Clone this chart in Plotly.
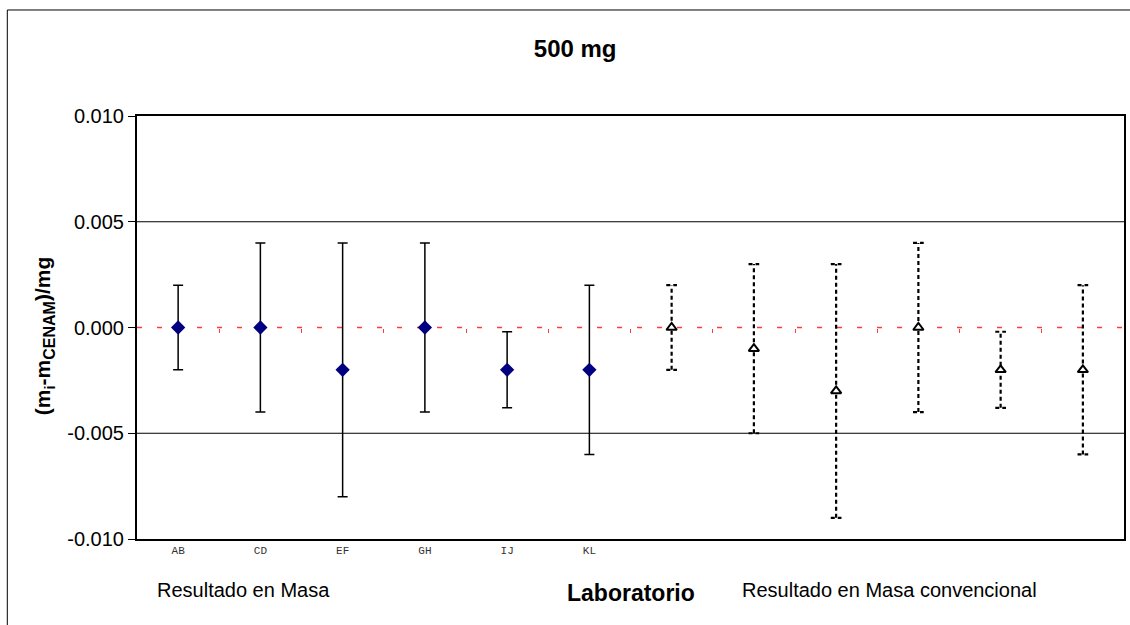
import plotly.graph_objects as go

# Datos (mg)
labs = ["AB", "CD", "EF", "GH", "IJ", "KL"]
masa = [0.000, 0.000, -0.002, 0.000, -0.002, -0.002]
u_masa = [0.002, 0.004, 0.006, 0.004, 0.0018, 0.004]
masa_conv = [0.000, -0.001, -0.003, 0.000, -0.002, -0.002]
u_masa_conv = [0.002, 0.004, 0.006, 0.004, 0.0018, 0.004]

y_ticks = [-0.010, -0.005, 0.000, 0.005, 0.010]
y_ticktext = ["-0.010", "-0.005", "0.000", "0.005", "0.010"]

n = len(labs)
x1 = list(range(n))
x2 = list(range(n, 2 * n))

fig = go.Figure()

# Resultado en masa: rombos con barras continuas
fig.add_trace(go.Scatter(
    x=x1, y=masa, mode="markers",
    marker=dict(symbol="diamond", size=11, color="#000080"),
    error_y=dict(type="data", array=u_masa, visible=True,
                 color="black", thickness=1.5, width=5),
    showlegend=False, hoverinfo="skip"))

# Resultado en masa convencional: barras punteadas hechas a mano
cap = 0.065
bx, by = [], []
for xi, yi, ui in zip(x2, masa_conv, u_masa_conv):
    bx += [xi, xi, None, xi - cap, xi + cap, None, xi - cap, xi + cap, None]
    by += [yi - ui, yi + ui, None, yi + ui, yi + ui, None, yi - ui, yi - ui, None]
fig.add_trace(go.Scatter(
    x=bx, y=by, mode="lines",
    line=dict(color="black", width=2.2, dash="4px,3px"),
    showlegend=False, hoverinfo="skip"))

fig.add_trace(go.Scatter(
    x=x2, y=masa_conv, mode="markers",
    marker=dict(symbol="triangle-up", size=9, color="white",
                line=dict(color="black", width=2)),
    showlegend=False, hoverinfo="skip"))

# lineas de rejilla (sin la de cero)
for yv in y_ticks[1:-1]:
    if yv != 0:
        fig.add_shape(type="line", xref="paper", yref="y", x0=0, x1=1, y0=yv, y1=yv,
                      line=dict(color="black", width=1), layer="below")

# linea de referencia roja en cero
fig.add_shape(type="line", xref="paper", yref="y", x0=0, x1=1, y0=0, y1=0,
              line=dict(color="#ff3c3c", width=1.6, dash="5px,15px"), layer="below")

# marco exterior (lados derecho e inferior quedan fuera de la imagen)
fig.add_shape(type="rect", xref="paper", yref="paper",
              x0=-0.1314, x1=1.02, y0=-0.22, y1=1.2506,
              line=dict(color="black", width=1))

fig.update_layout(
    width=1130, height=625,
    margin=dict(l=137, r=4, t=116, b=86),
    paper_bgcolor="white", plot_bgcolor="white",
    font=dict(family="Arial, Liberation Sans, sans-serif", color="black"),
    title=dict(text="<b>500 mg</b>", x=0.509, xanchor="center",
               y=0.923, yanchor="middle", font=dict(size=24)),
    xaxis=dict(range=[-0.5, 2 * n - 0.5], tickvals=x1, ticktext=labs,
               ticks="", showgrid=False, zeroline=False,
               showline=True, linecolor="black", linewidth=2, mirror=True,
               tickfont=dict(family="Liberation Mono, Courier New, monospace",
                             size=11, color="#333333")),
    xaxis2=dict(range=[-0.5, 2 * n - 0.5], overlaying="x", anchor="free",
                position=0.5, tickvals=[i + 0.5 for i in range(2 * n - 1)],
                ticks="outside", ticklen=4, tickcolor="#ff3c3c", tickwidth=1,
                showticklabels=False, showgrid=False, showline=False,
                zeroline=False),
    yaxis=dict(range=[-0.010, 0.010], tickvals=y_ticks, ticktext=y_ticktext,
               ticks="outside", ticklen=7, tickcolor="black",
               showgrid=False, zeroline=False,
               showline=True, linecolor="black", linewidth=2, mirror=True,
               tickfont=dict(size=20)),
)

# eje secundario solo para las marquitas rojas
fig.add_trace(go.Scatter(x=[0], y=[0], xaxis="x2", mode="markers",
                         marker=dict(opacity=0), showlegend=False, hoverinfo="skip"))

fig.add_annotation(
    text="<b>(m<sub>i</sub>-m<sub><span style='font-size:16px'>CENAM</span></sub>)/mg</b>",
    xref="paper", yref="paper", x=-0.094, y=0.48, xanchor="center", yanchor="middle",
    textangle=-90, showarrow=False, font=dict(size=21))
fig.add_annotation(text="Resultado en Masa", xref="paper", yref="paper",
                   x=0.108, y=-0.1206, xanchor="center", yanchor="middle",
                   showarrow=False, font=dict(size=20))
fig.add_annotation(text="<b>Laboratorio</b>", xref="paper", yref="paper",
                   x=0.5, y=-0.128, xanchor="center", yanchor="middle",
                   showarrow=False, font=dict(size=23))
fig.add_annotation(text="Resultado en Masa convencional", xref="paper", yref="paper",
                   x=0.762, y=-0.1206, xanchor="center", yanchor="middle",
                   showarrow=False, font=dict(size=20))

fig.write_html("out.html", config={"displayModeBar": False},
               post_script="document.body.style.margin='0px';")
